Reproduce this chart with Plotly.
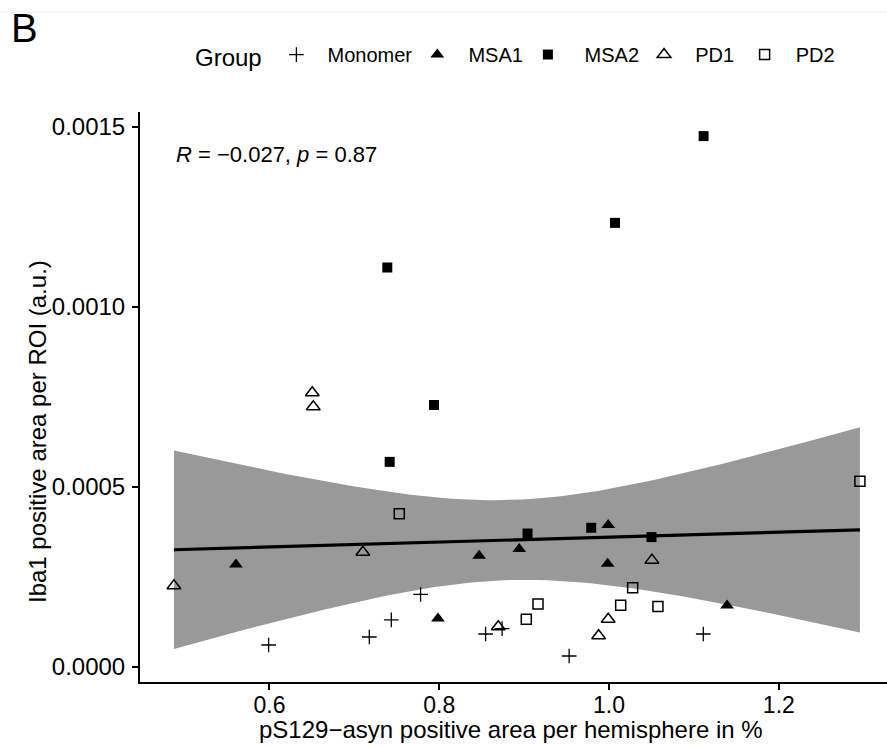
import numpy as np
import plotly.graph_objects as go

# ---- data ----
groups = ["Monomer", "MSA1", "MSA2", "PD1", "PD2"]

monomer_x = [0.599, 0.7176, 0.7435, 0.778, 0.8546, 0.874, 0.953, 1.111]
monomer_y = [0.0000603, 0.0000825, 0.000130, 0.000201, 0.0000908, 0.000106, 0.0000297, 0.0000908]

msa1_x = [0.5605, 0.7985, 0.847, 0.8942, 0.999, 0.9983, 1.139]
msa1_y = [0.000284, 0.000134, 0.000308, 0.000327, 0.000394, 0.000286, 0.000170]

msa2_x = [0.7388, 0.7416, 0.7938, 0.904, 0.979, 1.007, 1.050, 1.1114]
msa2_y = [0.001109, 0.000569, 0.000727, 0.000370, 0.000386, 0.001233, 0.000360, 0.001474]

pd1_x = [0.4875, 0.6504, 0.6516, 0.710, 0.8695, 0.9877, 0.999, 1.0505]
pd1_y = [0.000225, 0.000761, 0.000722, 0.000318, 0.000111, 0.0000862, 0.000132, 0.000296]

pd2_x = [0.7529, 0.9025, 0.9163, 1.0137, 1.0278, 1.0576, 1.2955]
pd2_y = [0.000425, 0.000132, 0.000174, 0.000171, 0.000219, 0.000167, 0.000515]

x_ticks = [0.6, 0.8, 1.0, 1.2]
y_ticks = [0.0000, 0.0005, 0.0010, 0.0015]

x_title = "pS129\u2212asyn positive area per hemisphere in %"
y_title = "Iba1 positive area per ROI (a.u.)"
stat_label = "<i>R</i> = \u22120.027, <i>p</i> = 0.87"

# ---- linear fit with 95% confidence band (as geom_smooth(method='lm')) ----
all_x = np.array(monomer_x + msa1_x + msa2_x + pd1_x + pd2_x)
all_y = np.array(monomer_y + msa1_y + msa2_y + pd1_y + pd2_y)
n = len(all_x)
slope, intercept = np.polyfit(all_x, all_y, 1)
resid = all_y - (slope * all_x + intercept)
s = np.sqrt(np.sum(resid ** 2) / (n - 2))
xm = all_x.mean()
sxx = np.sum((all_x - xm) ** 2)
t_crit = 2.028  # t(0.975, df=36)
xs = np.linspace(all_x.min(), all_x.max(), 80)
fit = slope * xs + intercept
se = s * np.sqrt(1.0 / n + (xs - xm) ** 2 / sxx)
upper = fit + t_crit * se
lower = fit - t_crit * se

fig = go.Figure()

fig.add_trace(go.Scatter(
    x=np.concatenate([xs, xs[::-1]]), y=np.concatenate([upper, lower[::-1]]),
    fill="toself", fillcolor="#999999", line=dict(width=0), mode="lines",
    showlegend=False, hoverinfo="skip"))
fig.add_trace(go.Scatter(x=xs, y=fit, mode="lines", line=dict(color="black", width=3.2),
                         showlegend=False, hoverinfo="skip"))

styles = {
    "Monomer": dict(symbol="cross-thin", size=10.5, color="black", line=dict(color="black", width=1.3)),
    "MSA1": dict(symbol="triangle-up", size=12, color="black", line=dict(width=0)),
    "MSA2": dict(symbol="square", size=10, color="black", line=dict(width=0)),
    "PD1": dict(symbol="triangle-up-open", size=12, color="black", line=dict(color="black", width=1.5)),
    "PD2": dict(symbol="square-open", size=10, color="black", line=dict(color="black", width=1.5)),
}
# legend labels (non-breaking spaces only add spacing around the key text)
legend_names = {
    "Monomer": "\u00a0\u00a0Monomer",
    "MSA1": "\u00a0\u00a0MSA1",
    "MSA2": "\u00a0\u00a0\u00a0MSA2",
    "PD1": "\u00a0\u00a0PD1\u00a0",
    "PD2": "\u00a0\u00a0PD2",
}
series = {
    "Monomer": (monomer_x, monomer_y),
    "MSA1": (msa1_x, msa1_y),
    "MSA2": (msa2_x, msa2_y),
    "PD1": (pd1_x, pd1_y),
    "PD2": (pd2_x, pd2_y),
}
for g in groups:
    gx, gy = series[g]
    fig.add_trace(go.Scatter(x=gx, y=gy, mode="markers", name=legend_names[g], marker=styles[g]))

font_family = "Liberation Sans, Arial, Helvetica, sans-serif"

fig.update_layout(
    width=887, height=747,
    margin=dict(l=140, r=0, t=112, b=65),
    paper_bgcolor="white", plot_bgcolor="white",
    font=dict(family=font_family, color="black"),
    legend=dict(
        orientation="h", xref="container", yref="container",
        x=0.2176, xanchor="left", y=0.925, yanchor="middle",
        title=dict(text="Group\u00a0", font=dict(size=24), side="left"),
        font=dict(size=20), bgcolor="rgba(0,0,0,0)", itemsizing="trace",
    ),
    showlegend=True,
)

fig.update_xaxes(
    range=[0.4475, 1.3274], tickvals=x_ticks, ticktext=[f"{v:.1f}" for v in x_ticks],
    showgrid=False, zeroline=False, showline=True, linecolor="black", linewidth=2,
    ticks="outside", ticklen=6, tickwidth=1.5, tickcolor="black",
    tickfont=dict(size=23), ticklabelstandoff=-5, automargin=False,
)
fig.update_yaxes(
    range=[-0.0000425, 0.001541], tickvals=y_ticks, ticktext=[f"{v:.4f}" for v in y_ticks],
    showgrid=False, zeroline=False, showline=True, linecolor="black", linewidth=2,
    ticks="outside", ticklen=6, tickwidth=1.5, tickcolor="black",
    tickfont=dict(size=24), ticklabelstandoff=2, automargin=False,
)

# axis titles
fig.add_annotation(x=0.497, y=-0.0825, xref="paper", yref="paper", text=x_title,
                   showarrow=False, xanchor="center", yanchor="middle", font=dict(size=24))
fig.add_annotation(x=-0.1365, y=0.4386, xref="paper", yref="paper", text=y_title, textangle=-90,
                   showarrow=False, xanchor="center", yanchor="middle", font=dict(size=24))

fig.add_annotation(x=0.4875, y=0.001422, xref="x", yref="y", text=stat_label,
                   showarrow=False, xanchor="left", yanchor="middle", font=dict(size=22))
fig.add_annotation(x=-0.175, y=1.147, xref="paper", yref="paper", text="B",
                   showarrow=False, xanchor="left", yanchor="middle", font=dict(size=40))
fig.add_shape(type="line", xref="paper", yref="paper", x0=-0.19, x1=1.0, y0=1.1754, y1=1.1754,
              line=dict(color="#f0f0f0", width=1))

fig.write_html("out.html", config={"displayModeBar": False},
               post_script="document.body.style.margin='0';")
